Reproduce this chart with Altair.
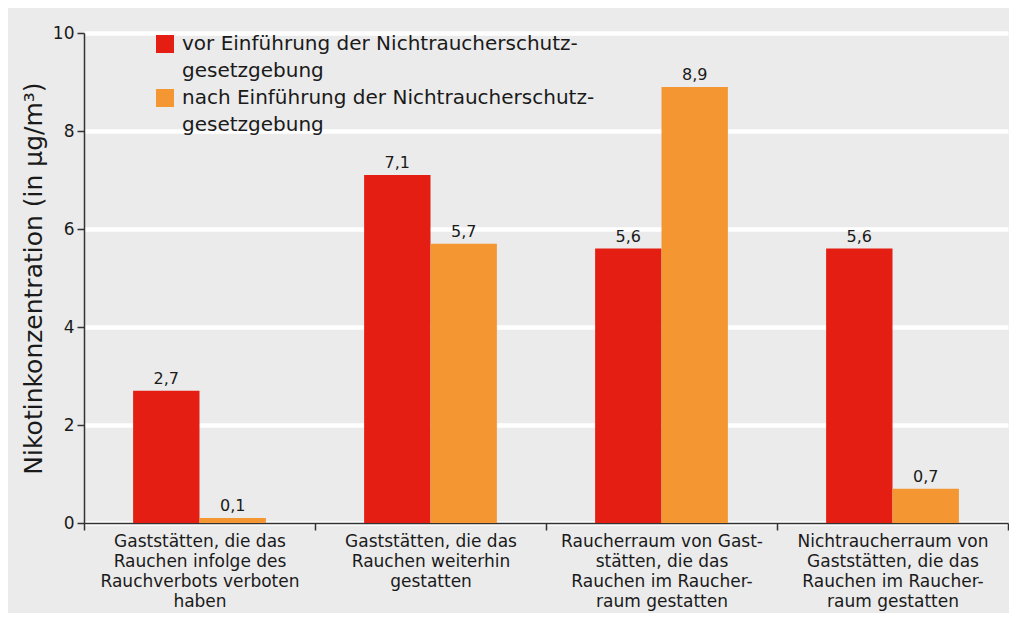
import altair as alt
import pandas as pd

categories = [
    "Gaststätten, die das|Rauchen infolge des|Rauchverbots verboten|haben",
    "Gaststätten, die das|Rauchen weiterhin|gestatten",
    "Raucherraum von Gast-|stätten, die das|Rauchen im Raucher-|raum gestatten",
    "Nichtraucherraum von|Gaststätten, die das|Rauchen im Raucher-|raum gestatten",
]
series_names = [
    "vor Einführung der Nichtraucherschutzgesetzgebung",
    "nach Einführung der Nichtraucherschutzgesetzgebung",
]
vor_values = [2.7, 7.1, 5.6, 5.6]
nach_values = [0.1, 5.7, 8.9, 0.7]
colors = ["#E41E13", "#F49733"]
y_ticks = [0, 2, 4, 6, 8, 10]

rows = []
for c, v in zip(categories, vor_values):
    rows.append({"cat": c, "series": series_names[0], "value": v})
for c, v in zip(categories, nach_values):
    rows.append({"cat": c, "series": series_names[1], "value": v})
df = pd.DataFrame(rows)

# legend: each series name is shown on two lines (second line as a continuation row)
legend_domain = [series_names[0], "vor_cont", series_names[1], "nach_cont"]
legend_range = [colors[0], "rgba(0,0,0,0)", colors[1], "rgba(0,0,0,0)"]

FONT = "DejaVu Sans"

x_enc = alt.X(
    "cat:N",
    sort=categories,
    scale=alt.Scale(paddingInner=0, paddingOuter=0),
    axis=alt.Axis(
        title=None,
        labelAngle=0,
        labelExpr="split(datum.label, '|')",
        labelFontSize=17,
        labelLineHeight=20.3,
        labelPadding=3,
        labelColor="#1a1a1a",
        labelFont=FONT,
        labelBaseline="top",
        tickBand="extent",
        tickSize=7,
        tickColor="#333333",
        tickWidth=1.5,
        domainColor="#333333",
        domainWidth=1.5,
        grid=False,
        labelLimit=0,
    ),
)
xoff_enc = alt.XOffset(
    "series:N", sort=series_names,
    scale=alt.Scale(paddingOuter=0.74, paddingInner=0),
)
y_enc = alt.Y(
    "value:Q",
    scale=alt.Scale(domain=[0, 10], nice=False),
    axis=alt.Axis(
        title="Nikotinkonzentration (in µg/m³)",
        titleFontSize=25,
        titleFontWeight="normal",
        titleFont=FONT,
        titleColor="#1a1a1a",
        titlePadding=6,
        values=y_ticks,
        labelFontSize=17,
        labelFont=FONT,
        labelColor="#1a1a1a",
        labelPadding=3,
        tickSize=7,
        tickColor="#333333",
        tickWidth=1.5,
        domainColor="#333333",
        domainWidth=1.5,
        grid=True,
        gridColor="#FFFFFF",
        gridWidth=4.5,
    ),
)
color_enc = alt.Color(
    "series:N",
    scale=alt.Scale(domain=legend_domain, range=legend_range),
    legend=alt.Legend(
        title=None,
        orient="none",
        legendX=71,
        legendY=1,
        symbolType="square",
        symbolSize=324,
        symbolStrokeWidth=0,
        symbolOpacity=1,
        labelExpr="indexof(datum.label, '_cont') >= 0 ? 'gesetzgebung' : replace(datum.label, 'gesetzgebung', '-')",
        labelFontSize=20,
        labelFont=FONT,
        labelColor="#1a1a1a",
        labelLimit=0,
        labelOffset=7,
        labelBaseline="middle",
        rowPadding=7,
        padding=0,
    ),
)

base = alt.Chart(df)
bars = base.mark_bar(opacity=1).encode(x=x_enc, xOffset=xoff_enc, y=y_enc, color=color_enc)
labels = base.transform_calculate(
    lbl="replace(format(datum.value, '.1f'), '.', ',')"
).mark_text(
    baseline="alphabetic", dy=-7, fontSize=16, font=FONT, color="#1a1a1a"
).encode(x=alt.X("cat:N", sort=categories), xOffset=alt.XOffset("series:N", sort=series_names), y="value:Q", text="lbl:N")

chart = alt.layer(bars, labels).properties(
    width=924, height=490,
    background="#EBEBEB",
    padding={"left": 76, "top": 25, "right": 1, "bottom": 90},
    autosize=alt.AutoSizeParams(type="none"),
).configure_view(stroke=None)

chart.save("out.html", embed_options={"renderer": "svg", "actions": False})
